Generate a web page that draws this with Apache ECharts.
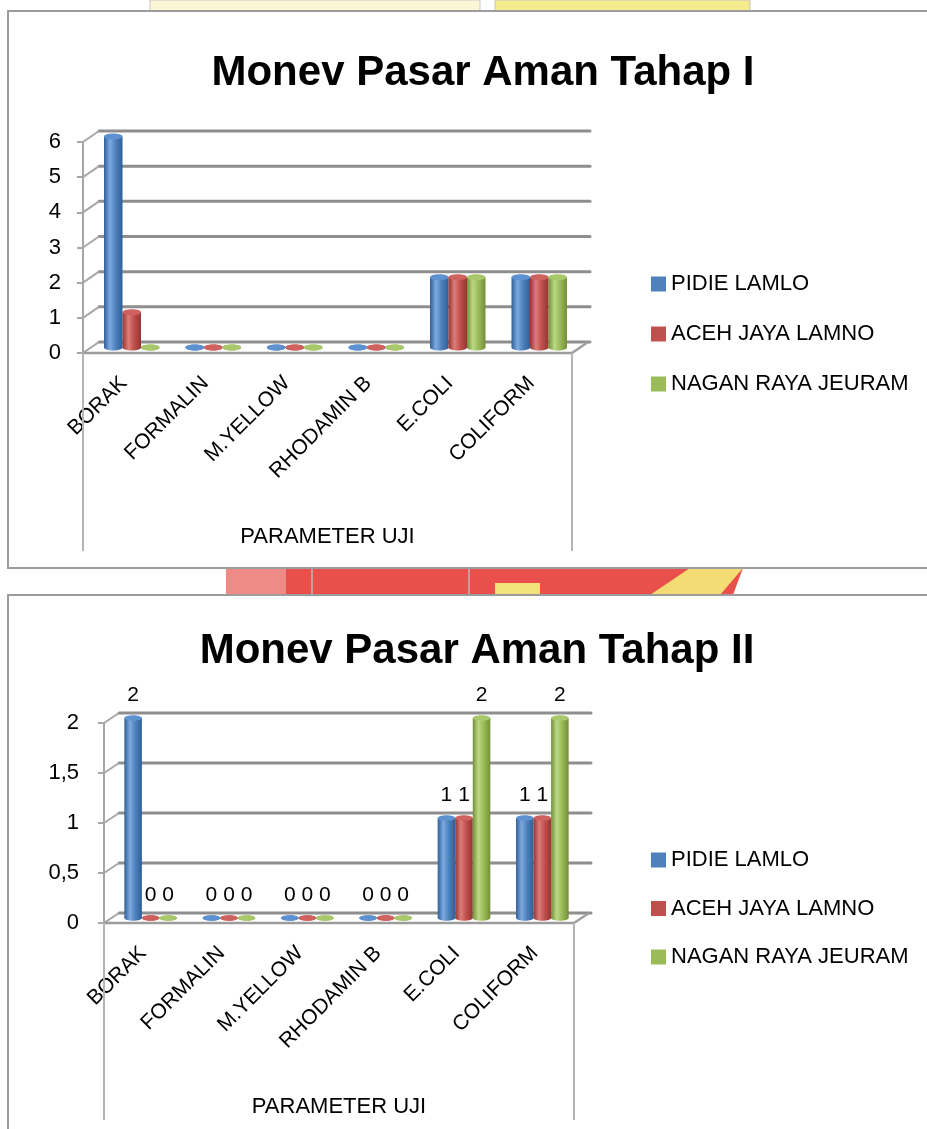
<!DOCTYPE html>
<html>
<head>
<meta charset="utf-8">
<script src="https://cdn.jsdelivr.net/npm/echarts@6/dist/echarts.min.js"></script>
<style>
  html, body { margin: 0; padding: 0; background: #ffffff; }
  #chart { width: 927px; height: 1129px; }
</style>
</head>
<body>
<div id="chart"></div>
<script>
// ---- data ----
const categories = ['BORAK', 'FORMALIN', 'M.YELLOW', 'RHODAMIN B', 'E.COLI', 'COLIFORM'];
const seriesNames = ['PIDIE LAMLO', 'ACEH JAYA LAMNO', 'NAGAN RAYA JEURAM'];

const tahap1Pidie = [6, 0, 0, 0, 2, 2];
const tahap1Aceh  = [1, 0, 0, 0, 2, 2];
const tahap1Nagan = [0, 0, 0, 0, 2, 2];

const tahap2Pidie = [2, 0, 0, 0, 1, 1];
const tahap2Aceh  = [0, 0, 0, 0, 1, 1];
const tahap2Nagan = [0, 0, 0, 0, 2, 2];

const tahap1Ticks = [0, 1, 2, 3, 4, 5, 6];
const tahap2Ticks = [0, 0.5, 1, 1.5, 2];

const titleTexts = ['Monev Pasar Aman Tahap I', 'Monev Pasar Aman Tahap II'];
const axisTitle = 'PARAMETER UJI';

// ---- styling ----
const palette = [
  { base: '#4f81bd', dark: '#2f5f99', light: '#7ea9de', top: '#5e91cf' },
  { base: '#c0504d', dark: '#943532', light: '#dd7d79', top: '#cf615e' },
  { base: '#9bbb59', dark: '#728f38', light: '#bcd886', top: '#a9c86b' }
];

function hasFont(name) {
  const ctx = document.createElement('canvas').getContext('2d');
  ctx.font = '40px monospace';
  const a = ctx.measureText('Monev Pasar Aman').width;
  ctx.font = '40px "' + name + '", monospace';
  return ctx.measureText('Monev Pasar Aman').width !== a;
}
const narrow = hasFont('Liberation Sans Narrow');
const titleFont = narrow
  ? { family: '"Liberation Sans Narrow", "Liberation Sans", sans-serif', size: 49 }
  : { family: '"Liberation Sans", Arial, sans-serif', size: 42 };
const textFont = '"Liberation Sans", Arial, sans-serif';

const decimalComma = v => String(v).replace('.', ',');

// 3D frame: floor, side wall and back wall lines, plus the plot-area edges below the floor
function frameRenderer(ticks, dx, dy, dropLen) {
  return function (params, api) {
    const cs = params.coordSys;
    const x0 = cs.x, x1 = cs.x + cs.width;
    const y0 = api.coord([0, 0])[1];
    const children = [];
    children.push({
      type: 'polygon',
      shape: { points: [[x0, y0], [x1, y0], [x1 + dx, y0 + dy], [x0 + dx, y0 + dy]] },
      style: { fill: '#ffffff', stroke: '#b0b0b0', lineWidth: 1.5 }
    });
    ticks.forEach(v => {
      const y = api.coord([0, v])[1];
      children.push({
        type: 'line',
        shape: { x1: x0 + dx, y1: y + dy, x2: x1 + dx + 2, y2: y + dy },
        style: { stroke: '#8e8e8e', lineWidth: 3, lineCap: 'round' }
      });
      children.push({
        type: 'line',
        shape: { x1: x0, y1: y, x2: x0 + dx, y2: y + dy },
        style: { stroke: '#a8a8a8', lineWidth: 2 }
      });
    });
    children.push({
      type: 'line',
      shape: { x1: x1, y1: y0, x2: x1 + dx, y2: y0 + dy },
      style: { stroke: '#a0a0a0', lineWidth: 2.5 }
    });
    children.push({
      type: 'line',
      shape: { x1: x0, y1: y0, x2: x1, y2: y0 },
      style: { stroke: '#9c9c9c', lineWidth: 2.5 }
    });
    children.push({
      type: 'line',
      shape: { x1: x0, y1: y0, x2: x0, y2: y0 + dropLen },
      style: { stroke: '#b4b4b4', lineWidth: 2 }
    });
    children.push({
      type: 'line',
      shape: { x1: x1, y1: y0, x2: x1, y2: y0 + dropLen },
      style: { stroke: '#b4b4b4', lineWidth: 2 }
    });
    return { type: 'group', children };
  };
}

// Cylinder bars placed at mid depth of the 3D box
function cylinderRenderer(idx, colors, dx, dy, ratio, withLabel) {
  return function (params, api) {
    const cat = api.value(0), val = api.value(1);
    const band = api.size([1, 0])[0];
    const w = band * ratio;
    const top = api.coord([cat, val]);
    const base = api.coord([cat, 0]);
    const cx = top[0] + (idx - 1) * w + dx / 2;
    const yt = top[1] + dy / 2;
    const yb = base[1] + dy / 2;
    const rx = w / 2, ry = Math.max(2.5, w * 0.16);
    const grad = new echarts.graphic.LinearGradient(0, 0, 1, 0, [
      { offset: 0, color: colors.dark },
      { offset: 0.32, color: colors.light },
      { offset: 0.62, color: colors.base },
      { offset: 1, color: colors.dark }
    ]);
    const children = [
      { type: 'ellipse', shape: { cx: cx, cy: yb, rx: rx, ry: ry }, style: { fill: grad } }
    ];
    if (yb - yt > 0.5) {
      children.push({ type: 'rect', shape: { x: cx - rx, y: yt, width: w, height: yb - yt }, style: { fill: grad } });
    }
    children.push({ type: 'ellipse', shape: { cx: cx, cy: yt, rx: rx, ry: ry }, style: { fill: colors.top } });
    if (withLabel) {
      children.push({
        type: 'text',
        style: {
          x: cx, y: yt - 23, text: decimalComma(val),
          fill: '#000000', fontSize: 21, fontFamily: textFont,
          align: 'center', verticalAlign: 'middle'
        }
      });
    }
    return { type: 'group', children };
  };
}

const panels = [
  { values: [tahap1Pidie, tahap1Aceh, tahap1Nagan], ticks: tahap1Ticks, max: 6, interval: 1,
    grid: { left: 83, top: 142, width: 489, height: 211 }, dx: 16, dy: -11, drop: 198,
    ratio: 0.227, labels: false, legendTop: 273, legendGap: 28, yMargin: 22 },
  { values: [tahap2Pidie, tahap2Aceh, tahap2Nagan], ticks: tahap2Ticks, max: 2, interval: 0.5,
    grid: { left: 104, top: 723, width: 470, height: 200 }, dx: 15, dy: -10, drop: 197,
    ratio: 0.224, labels: true, legendTop: 849, legendGap: 26.5, yMargin: 25 }
];

const option = {
  animation: false,
  backgroundColor: '#ffffff',
  title: titleTexts.map((t, i) => ({
    text: t,
    left: i === 0 ? 478 : 472,
    top: i === 0 ? 41 : 619,
    textAlign: 'center',
    textStyle: { fontFamily: titleFont.family, fontSize: titleFont.size, fontWeight: 'bold', color: '#000000', lineHeight: 54 }
  })),
  graphic: [
    // emblem visible around the chart boxes
    { type: 'rect', z: -20, shape: { x: 150, y: 0, width: 330, height: 12 }, style: { fill: '#fbf6d6', stroke: '#c8c8c8', lineWidth: 1 } },
    { type: 'rect', z: -20, shape: { x: 495, y: 0, width: 255, height: 12 }, style: { fill: '#f6ec8f', stroke: '#c4c4c4', lineWidth: 1 } },
    { type: 'polygon', z: -20, shape: { points: [[226, 568], [743, 568], [733, 595], [232, 595]] }, style: { fill: '#e9504c' } },
    { type: 'rect', z: -19, shape: { x: 226, y: 568, width: 60, height: 27 }, style: { fill: '#f08a86' } },
    { type: 'rect', z: -19, shape: { x: 495, y: 583, width: 45, height: 12 }, style: { fill: '#f3e27a' } },
    { type: 'polygon', z: -19, shape: { points: [[690, 568], [743, 568], [720, 595], [650, 595]] }, style: { fill: '#f2dc73' } },
    { type: 'line', z: -19, shape: { x1: 312, y1: 568, x2: 312, y2: 595 }, style: { stroke: '#b8b8b8', lineWidth: 1.5 } },
    { type: 'line', z: -19, shape: { x1: 469, y1: 568, x2: 469, y2: 595 }, style: { stroke: '#b8b8b8', lineWidth: 1.5 } },
    // chart boxes
    { type: 'rect', z: -10, shape: { x: 8, y: 11, width: 950, height: 557 }, style: { fill: '#ffffff', stroke: '#9c9c9c', lineWidth: 2 } },
    { type: 'rect', z: -10, shape: { x: 8, y: 595, width: 950, height: 560 }, style: { fill: '#ffffff', stroke: '#9c9c9c', lineWidth: 2 } }
  ],
  legend: panels.map(p => ({
    orient: 'vertical',
    left: 651,
    top: p.legendTop,
    padding: 0,
    itemWidth: 15,
    itemHeight: 15,
    itemGap: p.legendGap,
    icon: 'rect',
    data: seriesNames,
    textStyle: { fontFamily: textFont, fontSize: 22, color: '#000000', lineHeight: 20 }
  })),
  grid: panels.map(p => Object.assign({ containLabel: false }, p.grid)),
  xAxis: panels.map((p, i) => ({
    type: 'category',
    gridIndex: i,
    data: categories,
    axisLine: { show: false },
    axisTick: { show: false },
    axisLabel: { interval: 0, rotate: 45, margin: 27, fontFamily: textFont, fontSize: 21, color: '#000000' },
    name: axisTitle,
    nameLocation: 'middle',
    nameGap: 173,
    nameTextStyle: { fontFamily: textFont, fontSize: 22, color: '#000000' }
  })),
  yAxis: panels.map((p, i) => ({
    type: 'value',
    gridIndex: i,
    min: 0,
    max: p.max,
    interval: p.interval,
    splitLine: { show: false },
    axisLine: { show: true, lineStyle: { color: '#a6a6a6', width: 2 } },
    axisTick: { show: true, length: 6, lineStyle: { color: '#a6a6a6', width: 2 } },
    axisLabel: { margin: p.yMargin, fontFamily: textFont, fontSize: 22, color: '#000000', formatter: decimalComma }
  })),
  series: []
};

panels.forEach((p, i) => {
  option.series.push({
    type: 'custom',
    name: 'frame' + i,
    xAxisIndex: i,
    yAxisIndex: i,
    z: 1,
    silent: true,
    renderItem: frameRenderer(p.ticks, p.dx, p.dy, p.drop),
    data: [[0, 0]]
  });
  p.values.forEach((vals, s) => {
    option.series.push({
      type: 'custom',
      name: seriesNames[s],
      xAxisIndex: i,
      yAxisIndex: i,
      z: 3,
      itemStyle: { color: palette[s].base },
      encode: { x: 0, y: 1 },
      renderItem: cylinderRenderer(s, palette[s], p.dx, p.dy, p.ratio, p.labels),
      data: vals.map((v, c) => [c, v])
    });
  });
});

const chart = echarts.init(document.getElementById('chart'), null, { renderer: 'canvas' });
chart.setOption(option);
</script>
</body>
</html>
